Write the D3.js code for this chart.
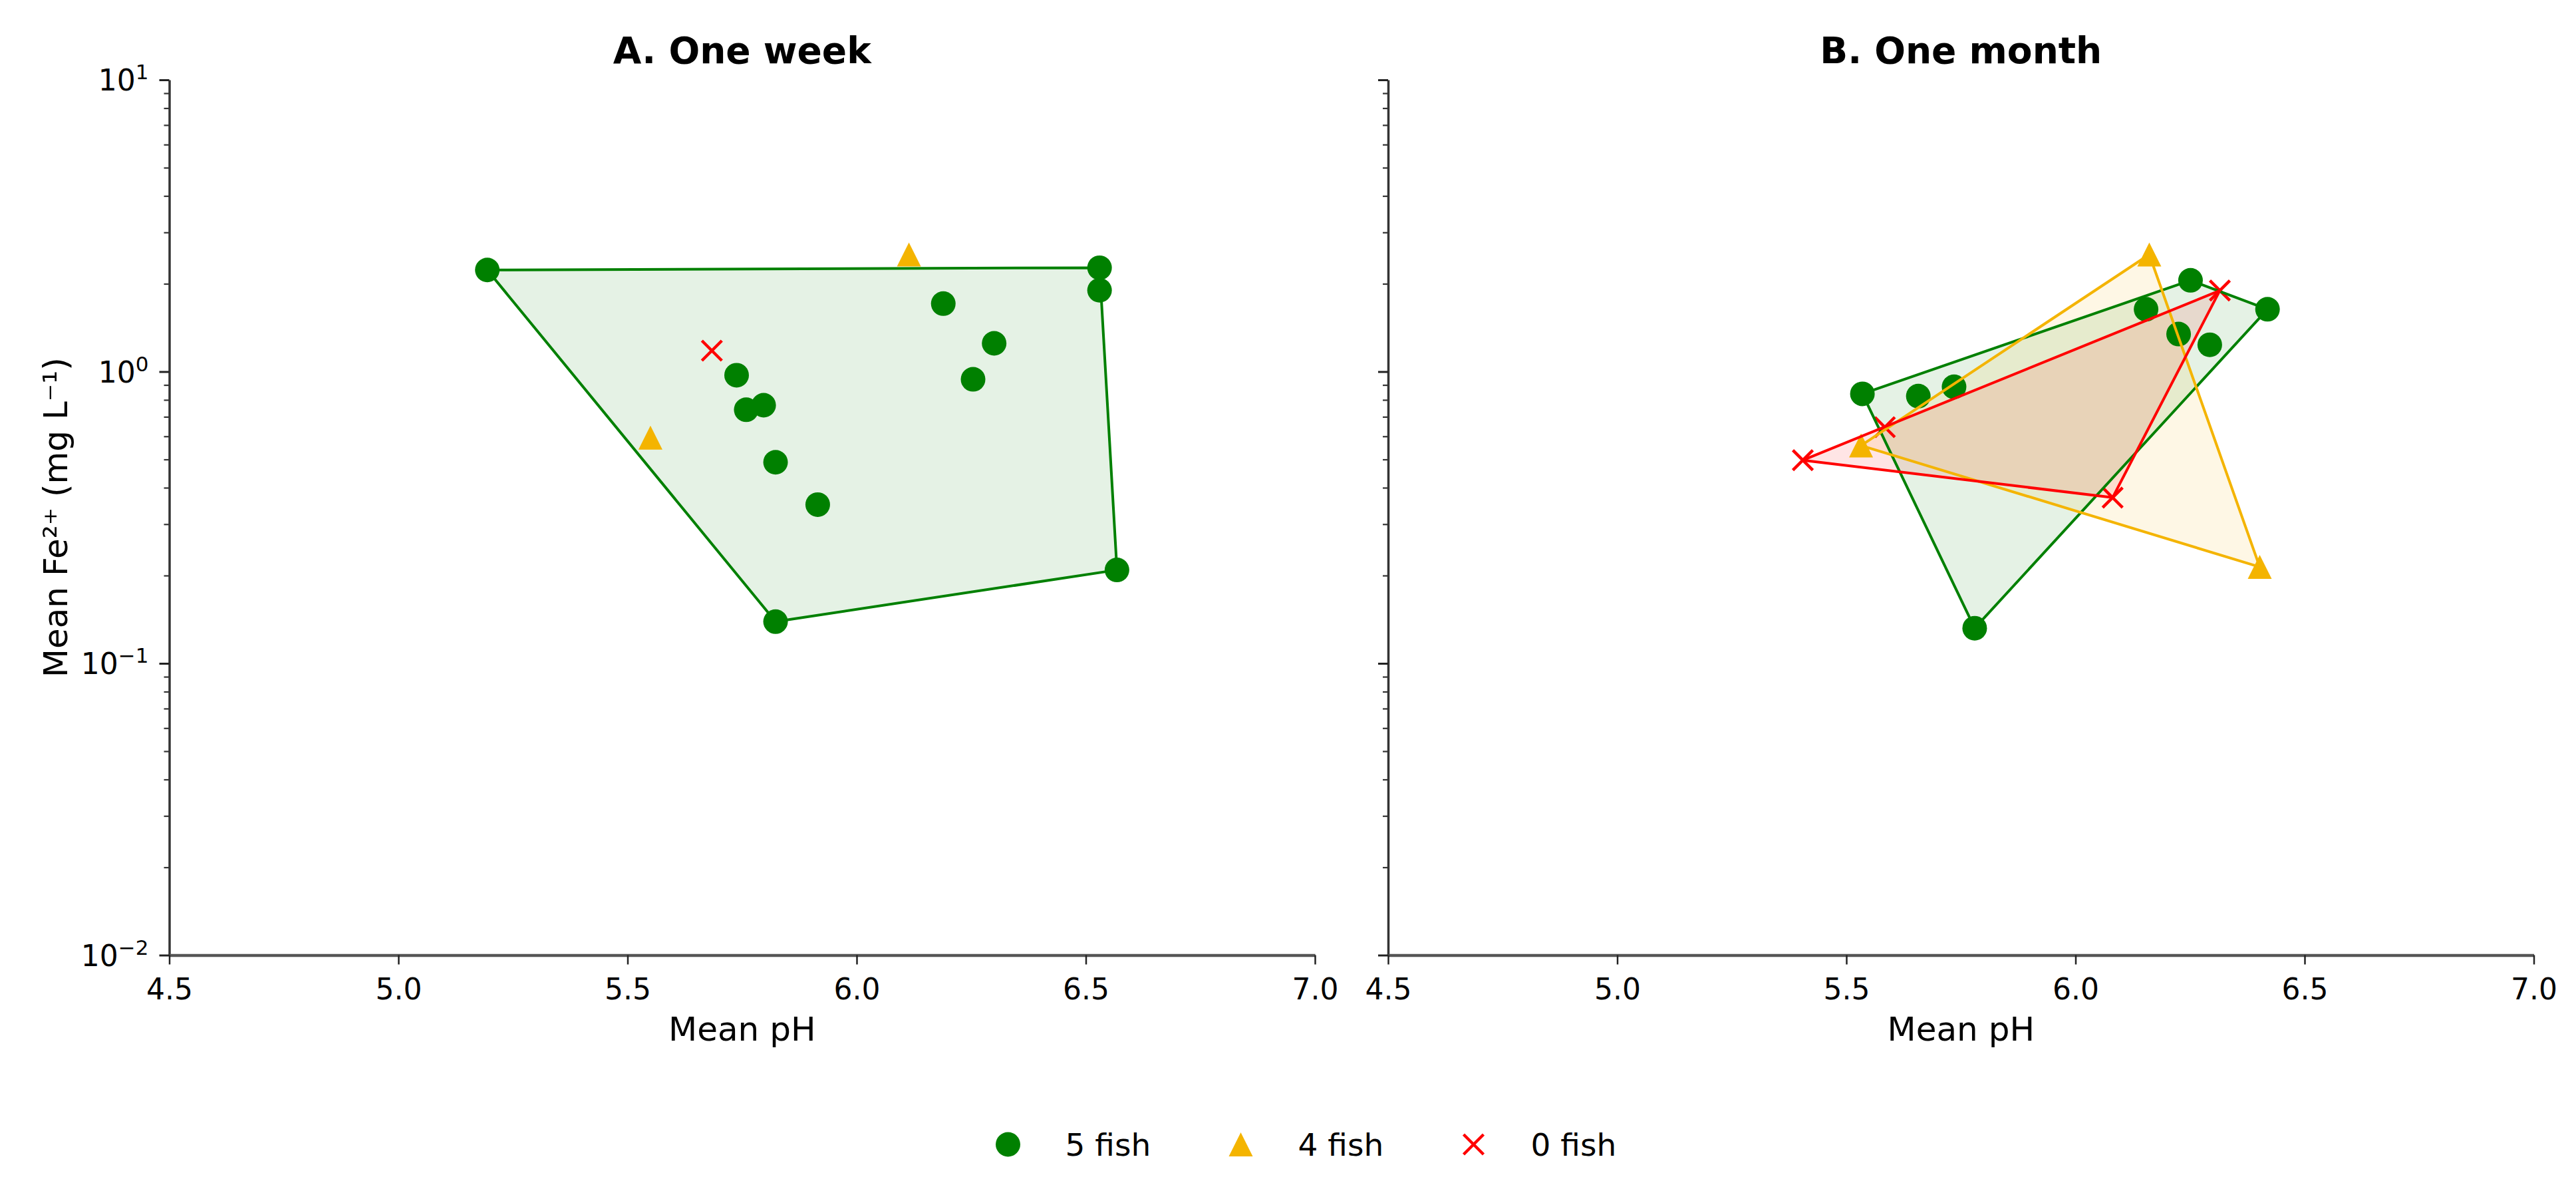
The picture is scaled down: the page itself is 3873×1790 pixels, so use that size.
<!DOCTYPE html>
<html>
<head>
<meta charset="utf-8">
<script src="https://cdn.jsdelivr.net/npm/d3@7"></script>
<style>
    body { margin: 0; background: #fff; }
    svg text { font-family: "DejaVu Sans", sans-serif; fill: #000; }
</style>
</head>
<body>
<svg id="chart" width="3873" height="1790"></svg>
<script>
// Axis ticks
const xTicks = [4.5, 5.0, 5.5, 6.0, 6.5, 7.0];
const yDecades = [-2, -1, 0, 1];
const supText = { '-2': '\u22122', '-1': '\u22121', '0': '0', '1': '1' };

// Legend
const groupNames = ['5 fish', '4 fish', '0 fish'];
const groupColors = ['green', '#f4b400', 'red'];
const groupShapes = ['circle', 'triangle', 'cross'];

// A. One week
const weekPH5 = [5.194, 5.738, 5.759, 5.797, 5.823, 5.915, 5.823, 6.189, 6.254, 6.300, 6.530, 6.530, 6.568];
const weekFe5 = [2.23, 0.972, 0.740, 0.767, 0.489, 0.350, 0.139, 1.71, 0.941, 1.25, 2.27, 1.90, 0.209];
const weekPH4 = [5.550, 6.114];
const weekFe4 = [0.594, 2.52];
const weekPH0 = [5.684];
const weekFe0 = [1.18];

// B. One month
const monthPH5 = [5.535, 5.657, 5.735, 5.780, 6.154, 6.225, 6.251, 6.293, 6.419];
const monthFe5 = [0.839, 0.824, 0.887, 0.132, 1.635, 1.345, 2.055, 1.236, 1.635];
const monthPH4 = [5.532, 6.161, 6.402];
const monthFe4 = [0.558, 2.52, 0.214];
const monthPH0 = [5.405, 5.584, 6.081, 6.315];
const monthFe0 = [0.497, 0.645, 0.370, 1.896];

let panels = [
    { title: 'A. One week', left: 254.5, labels: true,
      groups: [[weekPH5, weekFe5], [weekPH4, weekFe4], [weekPH0, weekFe0]] },
    { title: 'B. One month', left: 2087, labels: false,
      groups: [[monthPH5, monthFe5], [monthPH4, monthFe4], [monthPH0, monthFe0]] }
];

const plotW = 1722.5;
const plotTop = 120, plotBottom = 1435.5;

let svg = d3.select('svg#chart');

// marker path for each shape
function markerPath(shape) {
    if (shape === 'triangle') return 'M0,-18L18,18L-18,18Z';
    if (shape === 'cross') return 'M-15,-15L15,15M-15,15L15,-15';
    return null;
}

function drawMarker(g, shape, color, cx, cy) {
    if (shape === 'circle') {
        g.append('circle').attr('cx', cx).attr('cy', cy).attr('r', 18.5).attr('fill', color);
    } else if (shape === 'triangle') {
        g.append('path').attr('d', markerPath(shape))
            .attr('transform', 'translate(' + cx + ',' + cy + ')')
            .attr('fill', color);
    } else {
        g.append('path').attr('d', markerPath(shape))
            .attr('transform', 'translate(' + cx + ',' + cy + ')')
            .attr('fill', 'none').attr('stroke', color).attr('stroke-width', 4.5);
    }
}

panels.forEach(p => {
    let x = d3.scaleLinear().domain([4.5, 7.0]).range([p.left, p.left + plotW]);
    let y = d3.scaleLog().domain([0.01, 10]).range([plotBottom, plotTop]);
    let g = svg.append('g');

    // minor y ticks
    let minor = [];
    yDecades.slice(0, 3).forEach(d => {
        for (let k = 2; k <= 9; k++) minor.push(k * Math.pow(10, d));
    });
    g.append('g')
        .attr('transform', 'translate(' + p.left + ',0)')
        .call(d3.axisLeft(y).tickValues(minor).tickSize(8).tickFormat('').tickSizeOuter(0))
        .call(a => a.select('.domain').remove())
        .call(a => a.selectAll('line').attr('stroke', '#333').attr('stroke-width', 2.2));

    // major y ticks + spine
    g.append('g')
        .attr('transform', 'translate(' + p.left + ',0)')
        .call(d3.axisLeft(y).tickValues(yDecades.map(d => Math.pow(10, d))).tickSize(15).tickFormat('').tickSizeOuter(0))
        .call(a => a.select('.domain').attr('stroke', '#333').attr('stroke-width', 3.5))
        .call(a => a.selectAll('line').attr('stroke', '#222').attr('stroke-width', 3));

    if (p.labels) {
        yDecades.forEach(d => {
            let t = g.append('text')
                .attr('x', p.left - 31)
                .attr('y', y(Math.pow(10, d)) + 16)
                .attr('text-anchor', 'end')
                .style('font-size', '44px');
            t.append('tspan').text('10');
            t.append('tspan').attr('dy', -17).style('font-size', '31px').text(supText[d]);
        });
        g.append('text')
            .attr('transform', 'translate(101,' + (plotTop + plotBottom) / 2 + ') rotate(-90)')
            .attr('text-anchor', 'middle')
            .style('font-size', '50px')
            .text('Mean Fe²⁺ (mg L⁻¹)');
    }

    // x axis
    g.append('g')
        .attr('transform', 'translate(0,' + plotBottom + ')')
        .call(d3.axisBottom(x).tickValues(xTicks).tickFormat(d3.format('.1f')).tickSize(14).tickPadding(21).tickSizeOuter(0))
        .call(a => a.select('.domain').attr('stroke', '#555').attr('stroke-width', 4.5))
        .call(a => a.selectAll('line').attr('stroke', '#222').attr('stroke-width', 2.5))
        .call(a => a.selectAll('text').style('font-size', '44px').style('font-family', '"DejaVu Sans", sans-serif').attr('fill', '#000'));

    g.append('text')
        .attr('x', p.left + plotW / 2)
        .attr('y', 1564)
        .attr('text-anchor', 'middle')
        .style('font-size', '50px')
        .text('Mean pH');

    g.append('text')
        .attr('x', p.left + plotW / 2)
        .attr('y', 95)
        .attr('text-anchor', 'middle')
        .style('font-size', '55px')
        .style('font-weight', 'bold')
        .text(p.title);

    // convex hulls for groups with 3+ points
    let hulls = p.groups.map(gr => {
        if (gr[0].length < 3) return null;
        let pts = gr[0].map((v, i) => [x(v), y(gr[1][i])]);
        return d3.polygonHull(pts);
    });

    hulls.forEach((h, i) => {
        if (!h) return;
        g.append('path')
            .attr('d', 'M' + h.join('L') + 'Z')
            .attr('fill', groupColors[i])
            .attr('fill-opacity', 0.1)
            .attr('stroke', 'none');
    });

    p.groups.forEach((gr, i) => {
        gr[0].forEach((v, j) => {
            drawMarker(g, groupShapes[i], groupColors[i], x(v), y(gr[1][j]));
        });
    });

    hulls.forEach((h, i) => {
        if (!h) return;
        g.append('path')
            .attr('d', 'M' + h.join('L') + 'Z')
            .attr('fill', 'none')
            .attr('stroke', groupColors[i])
            .attr('stroke-width', 4)
            .attr('stroke-linejoin', 'round');
    });
});

// Legend
let legend = svg.append('g');
groupNames.forEach((name, i) => {
    let lx = 1515.5 + i * 350;
    drawMarker(legend, groupShapes[i], groupColors[i], lx, 1720);
    legend.append('text')
        .attr('x', lx + 86)
        .attr('y', 1737)
        .style('font-size', '47px')
        .text(name);
});
</script>
</body>
</html>
